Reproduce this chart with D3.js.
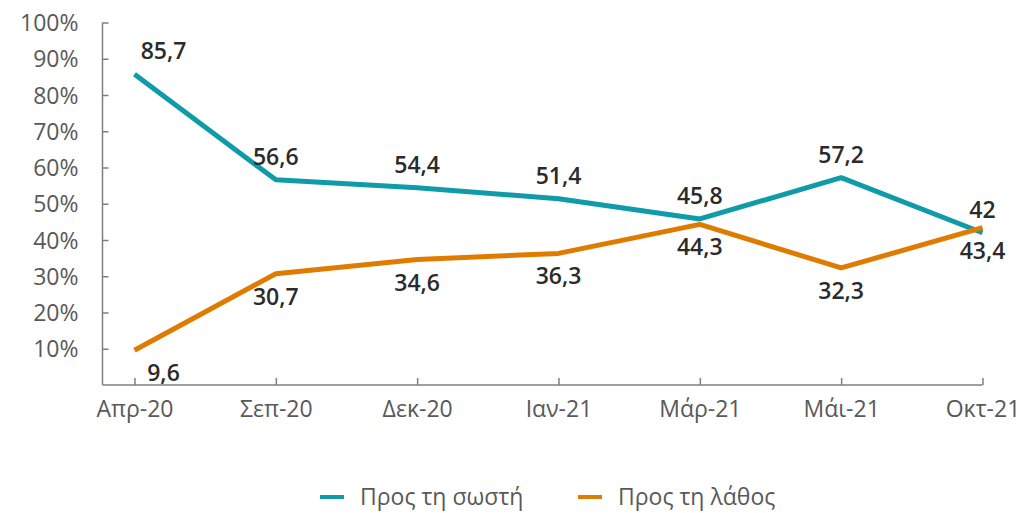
<!DOCTYPE html>
<html>
<head>
<meta charset="utf-8">
<script src="https://cdn.jsdelivr.net/npm/d3@7"></script>
<style>
  html, body { margin: 0; padding: 0; background: #ffffff; }
  svg { display: block; }
  text { font-family: "Open Sans", sans-serif; }
</style>
</head>
<body>
<svg id="chart" width="1024" height="513"></svg>
<script>
const categories = ["Απρ-20", "Σεπ-20", "Δεκ-20", "Ιαν-21", "Μάρ-21", "Μάι-21", "Οκτ-21"];
const seriesNames = ["Προς τη σωστή", "Προς τη λάθος"];
const correctValues = [85.7, 56.6, 54.4, 51.4, 45.8, 57.2, 42];
const wrongValues = [9.6, 30.7, 34.6, 36.3, 44.3, 32.3, 43.4];
const yTicks = [10, 20, 30, 40, 50, 60, 70, 80, 90, 100];
const colors = ["#0f9ba8", "#df7c00"];

const svg = d3.select("#chart");
const x = d3.scalePoint().domain(categories).range([134.5, 982.5]);
const y = d3.scaleLinear().domain([0, 100]).range([385, 22.5]);
const axisX0 = 102.5;
const axisFont = "\"Open Sans\", sans-serif";

// Y axis
const yAxis = d3.axisLeft(y).tickValues(yTicks).tickSize(-6).tickPadding(24)
  .tickFormat(d => d + "%");
const gy = svg.append("g").attr("transform", `translate(${axisX0},0)`).call(yAxis);
gy.select(".domain").remove();
gy.append("line").attr("x1", 0).attr("x2", 0).attr("y1", y(0)).attr("y2", y(100))
  .attr("stroke", "#7f7f7f").attr("stroke-width", 1.5);
gy.selectAll(".tick line").attr("stroke", "#7f7f7f").attr("stroke-width", 1.5);
gy.selectAll(".tick text").attr("fill", "#595959").style("font-size", "23px")
  .style("font-family", axisFont).style("font-weight", "400").attr("dy", "0.35em");

// X axis
const xAxis = d3.axisBottom(x).tickSize(-7).tickPadding(24);
const gx = svg.append("g").attr("transform", `translate(0,${y(0)})`).call(xAxis);
gx.select(".domain").remove();
gx.append("line").attr("x1", axisX0).attr("x2", x.range()[1]).attr("y1", 0).attr("y2", 0)
  .attr("stroke", "#7f7f7f").attr("stroke-width", 1.5);
gx.selectAll(".tick line").attr("stroke", "#7f7f7f").attr("stroke-width", 1.5);
gx.selectAll(".tick text").attr("fill", "#595959").style("font-size", "23px")
  .style("font-family", axisFont).style("font-weight", "400").attr("dy", "0.35em");

// Lines
const line = d3.line().x((d, i) => x(categories[i])).y(d => y(d));
const series = [correctValues, wrongValues];
series.forEach((vals, si) => {
  svg.append("path").datum(vals).attr("d", line)
    .attr("fill", "none").attr("stroke", colors[si]).attr("stroke-width", 5)
    .attr("stroke-linejoin", "round");
});

// Data labels
const fmt = v => String(v).replace(".", ",");
series.forEach((vals, si) => {
  svg.append("g").selectAll("text").data(vals).join("text")
    .attr("x", (d, i) => x(categories[i]) + (i === 0 ? 29 : 0))
    .attr("y", d => y(d) + (si === 0 ? -23 : 23))
    .attr("dy", "0.35em")
    .attr("text-anchor", "middle")
    .attr("fill", "#2b2b2b")
    .style("font-size", "23px")
    .style("font-weight", "600")
    .text(d => fmt(d));
});

// Legend
const legend = svg.append("g");
const legendItems = [{x: 320}, {x: 578}];
seriesNames.forEach((name, i) => {
  const lx = legendItems[i].x;
  legend.append("line").attr("x1", lx).attr("x2", lx + 24).attr("y1", 497).attr("y2", 497)
    .attr("stroke", colors[i]).attr("stroke-width", 4);
  legend.append("text").attr("x", lx + 40).attr("y", 497).attr("dy", "0.35em")
    .attr("fill", "#595959").style("font-size", "23px").style("font-weight", "400").text(name);
});
</script>
</body>
</html>
